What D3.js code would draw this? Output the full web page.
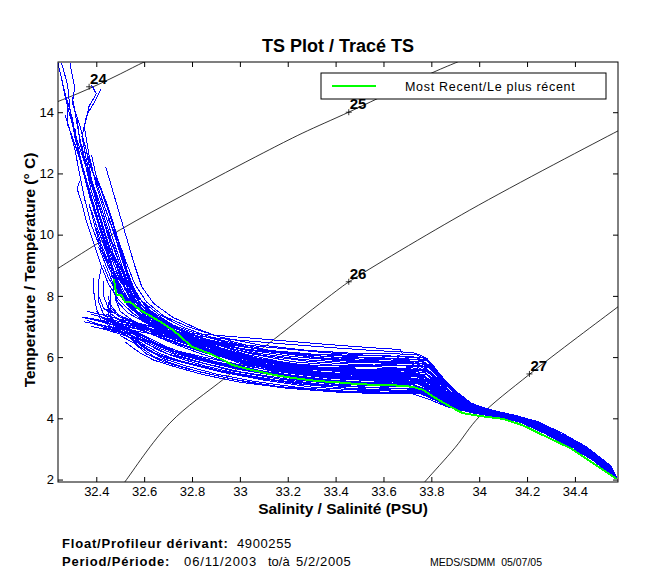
<!DOCTYPE html>
<html>
<head>
<meta charset="utf-8">
<script src="https://cdn.jsdelivr.net/npm/d3@7"></script>
<style>
  body { margin: 0; background: #fff; }
  text { font-family: "Liberation Sans", Arial, Helvetica, sans-serif; }
</style>
</head>
<body>
<svg id="ts" width="650" height="580"></svg>
<script>
// axis ranges and ticks
const sRange = [32.24, 34.58];
const tRange = [1.92, 15.64];
const xTicks = [32.4, 32.6, 32.8, 33, 33.2, 33.4, 33.6, 33.8, 34, 34.2, 34.4];
const xTickLabels = ["32.4", "32.6", "32.8", "33", "33.2", "33.4", "33.6", "33.8", "34", "34.2", "34.4"];
const yTicks = [2, 4, 6, 8, 10, 12, 14];
const yTickLabels = ["2", "4", "6", "8", "10", "12", "14"];

// sigma-theta isopycnals [S, T]
const sigma24 = [[32.2,14.22],[32.24,14.35],[32.32,14.6],[32.415,14.93],[32.5,15.25],[32.6,15.64],[32.65,15.8]];
const sigma25 = [[32.2,8.71],[32.24,8.9],[32.5,10.16],[32.77,11.32],[33.1,12.68],[33.26,13.31],[33.46,14.02],[33.807,15.3],[33.912,15.65],[33.95,15.78]];
const sigma26 = [[32.5,1.72],[32.52,1.93],[32.708,3.85],[32.945,5.36],[33.418,8.25],[33.456,8.46],[33.96,10.8],[34.58,13.39],[34.62,13.55]];
const sigma27 = [[33.765,1.85],[33.78,1.99],[33.9,3.05],[34.0,4.05],[34.212,5.45],[34.576,7.62],[34.62,7.88]];
const sigmaLabels = ["24", "25", "26", "27"];
const sigmaMarks = [[32.37,14.83],[33.455,14.0],[33.455,8.46],[34.21,5.45]];

// profiles with warm surface water (summer / autumn)
const warmProfiles = [
  [[32.24,15.6],[32.27,14.6],[32.3,13.8],[32.32,12.9],[32.35,11.9],[32.39,10.8],[32.43,9.8],[32.47,8.9],[32.51,8.1],[32.57,7.5],[32.66,7.0],[32.78,6.5],[32.92,6.05],[33.1,5.7],[33.3,5.5],[33.5,5.4],[33.7,5.35],[33.77,5.2],[33.84,4.8],[33.93,4.4],[34.02,4.22],[34.12,4.05],[34.22,3.82],[34.32,3.45],[34.42,3.02],[34.5,2.6],[34.57,2.06]],
  [[32.255,15.6],[32.28,14.9],[32.29,14.1],[32.31,13.2],[32.34,12.3],[32.37,11.3],[32.41,10.3],[32.45,9.3],[32.49,8.5],[32.54,7.8],[32.62,7.25],[32.72,6.8],[32.85,6.3],[33.0,5.9],[33.2,5.6],[33.4,5.45],[33.6,5.42],[33.74,5.38],[33.8,5.1],[33.88,4.6],[33.97,4.3],[34.06,4.16],[34.16,4.0],[34.26,3.68],[34.36,3.26],[34.46,2.82],[34.56,2.12]],
  [[32.29,15.6],[32.31,14.8],[32.3,14.3],[32.33,13.6],[32.36,12.7],[32.38,11.8],[32.42,10.9],[32.46,9.9],[32.5,9.0],[32.53,8.3],[32.58,7.6],[32.65,7.15],[32.76,6.7],[32.9,6.25],[33.05,5.85],[33.25,5.55],[33.45,5.35],[33.65,5.3],[33.75,5.25],[33.82,4.95],[33.9,4.5],[34.0,4.24],[34.1,4.08],[34.2,3.86],[34.3,3.5],[34.4,3.08],[34.5,2.62],[34.575,2.02]],
  [[32.38,14.9],[32.4,14.6],[32.37,14.2],[32.35,13.5],[32.37,12.6],[32.4,11.6],[32.44,10.6],[32.48,9.6],[32.52,8.7],[32.55,8.0],[32.61,7.4],[32.7,6.95],[32.82,6.5],[32.97,6.1],[33.15,5.8],[33.35,5.6],[33.55,5.55],[33.72,5.5],[33.78,5.3],[33.85,4.85],[33.94,4.4],[34.03,4.2],[34.13,4.04],[34.23,3.8],[34.33,3.4],[34.43,2.98],[34.53,2.45],[34.575,2.04]],
  [[32.42,14.75],[32.39,14.3],[32.36,13.9],[32.34,13.2],[32.36,12.4],[32.39,11.4],[32.42,10.4],[32.46,9.5],[32.5,8.6],[32.54,7.9],[32.6,7.35],[32.68,6.9],[32.8,6.45],[32.95,6.0],[33.12,5.65],[33.3,5.4],[33.5,5.3],[33.68,5.25],[33.76,5.1],[33.83,4.75],[33.92,4.38],[34.02,4.2],[34.12,4.03],[34.22,3.8],[34.32,3.42],[34.42,3.0],[34.52,2.5],[34.57,2.05]],
  [[32.28,14.2],[32.28,13.6],[32.3,13.2],[32.33,12.5],[32.36,11.6],[32.4,10.6],[32.44,9.7],[32.47,8.9],[32.5,8.2],[32.55,7.6],[32.63,7.1],[32.74,6.7],[32.87,6.25],[33.02,5.8],[33.2,5.5],[33.4,5.3],[33.6,5.2],[33.74,5.15],[33.8,4.9],[33.88,4.5],[33.98,4.25],[34.08,4.1],[34.18,3.9],[34.28,3.55],[34.38,3.14],[34.48,2.7],[34.57,2.08]],
  [[32.27,13.9],[32.29,13.4],[32.31,12.8],[32.33,12.0],[32.35,11.2],[32.38,10.3],[32.42,9.5],[32.46,8.8],[32.49,8.2],[32.53,7.7],[32.6,7.2],[32.7,6.75],[32.83,6.3],[33.0,5.85],[33.18,5.55],[33.38,5.38],[33.58,5.32],[33.73,5.3],[33.79,5.05],[33.86,4.65],[33.95,4.33],[34.04,4.18],[34.14,4.02],[34.24,3.75],[34.34,3.36],[34.44,2.92],[34.54,2.4],[34.575,2.03]],
  [[32.31,13.5],[32.32,13.0],[32.34,12.3],[32.37,11.5],[32.4,10.7],[32.43,9.9],[32.46,9.1],[32.49,8.5],[32.52,7.9],[32.57,7.4],[32.64,7.0],[32.76,6.55],[32.9,6.15],[33.07,5.75],[33.27,5.45],[33.47,5.28],[33.67,5.22],[33.76,5.12],[33.82,4.82],[33.9,4.45],[34.0,4.22],[34.1,4.06],[34.2,3.84],[34.3,3.48],[34.4,3.06],[34.5,2.58],[34.57,2.07]],
  [[32.33,13.05],[32.35,12.5],[32.38,11.8],[32.41,11.0],[32.44,10.2],[32.47,9.4],[32.51,8.6],[32.55,7.95],[32.6,7.5],[32.67,7.05],[32.78,6.6],[32.92,6.15],[33.08,5.8],[33.28,5.6],[33.48,5.5],[33.68,5.48],[33.76,5.4],[33.82,5.1],[33.9,4.6],[33.99,4.3],[34.08,4.15],[34.18,3.96],[34.28,3.6],[34.38,3.18],[34.48,2.72],[34.565,2.1]],
  [[32.36,12.7],[32.38,12.2],[32.41,11.5],[32.44,10.8],[32.48,9.9],[32.51,9.1],[32.54,8.4],[32.58,7.8],[32.64,7.3],[32.73,6.85],[32.86,6.4],[33.0,6.0],[33.2,5.7],[33.4,5.55],[33.6,5.5],[33.75,5.45],[33.81,5.2],[33.88,4.75],[33.96,4.38],[34.05,4.2],[34.15,4.03],[34.25,3.74],[34.35,3.32],[34.45,2.88],[34.55,2.3],[34.575,2.05]],
  [[32.37,12.3],[32.4,11.8],[32.44,11.1],[32.47,10.4],[32.5,9.6],[32.52,8.9],[32.55,8.2],[32.59,7.6],[32.66,7.15],[32.77,6.7],[32.9,6.3],[33.05,5.95],[33.25,5.65],[33.45,5.5],[33.65,5.42],[33.76,5.38],[33.8,5.18],[33.87,4.7],[33.96,4.35],[34.05,4.19],[34.15,4.02],[34.25,3.72],[34.35,3.3],[34.45,2.86],[34.56,2.18]],
  [[32.33,11.75],[32.32,11.5],[32.34,11.0],[32.36,10.4],[32.39,9.7],[32.42,9.0],[32.45,8.4],[32.49,7.9],[32.55,7.45],[32.63,7.0],[32.75,6.55],[32.88,6.1],[33.04,5.75],[33.24,5.45],[33.44,5.3],[33.64,5.25],[33.75,5.2],[33.8,4.98],[33.87,4.55],[33.97,4.27],[34.07,4.12],[34.17,3.94],[34.27,3.6],[34.37,3.2],[34.47,2.75],[34.57,2.06]],
  [[32.4,11.9],[32.43,11.3],[32.46,10.6],[32.49,9.8],[32.52,9.0],[32.55,8.3],[32.6,7.7],[32.67,7.2],[32.78,6.75],[32.92,6.3],[33.08,5.92],[33.28,5.65],[33.48,5.55],[33.68,5.55],[33.77,5.5],[33.82,5.25],[33.89,4.8],[33.97,4.4],[34.06,4.2],[34.16,4.03],[34.26,3.72],[34.36,3.3],[34.46,2.85],[34.56,2.2]],
  [[32.42,11.2],[32.45,10.6],[32.48,9.9],[32.51,9.2],[32.53,8.6],[32.56,8.0],[32.61,7.5],[32.69,7.05],[32.8,6.6],[32.95,6.2],[33.12,5.88],[33.32,5.62],[33.52,5.48],[33.72,5.45],[33.78,5.3],[33.85,4.9],[33.93,4.45],[34.02,4.23],[34.12,4.07],[34.22,3.85],[34.32,3.46],[34.42,3.04],[34.52,2.55],[34.575,2.04]],
  [[32.38,10.8],[32.4,10.3],[32.43,9.7],[32.46,9.0],[32.49,8.4],[32.53,7.85],[32.58,7.4],[32.66,6.95],[32.77,6.5],[32.9,6.1],[33.06,5.78],[33.26,5.5],[33.46,5.38],[33.66,5.33],[33.75,5.28],[33.81,5.0],[33.88,4.6],[33.97,4.3],[34.06,4.16],[34.16,4.0],[34.26,3.68],[34.36,3.26],[34.46,2.8],[34.565,2.12]],
  [[32.45,10.5],[32.48,10.0],[32.51,9.4],[32.53,8.8],[32.56,8.2],[32.6,7.7],[32.66,7.3],[32.75,6.9],[32.87,6.5],[33.02,6.1],[33.2,5.8],[33.4,5.6],[33.6,5.55],[33.76,5.55],[33.8,5.35],[33.86,4.95],[33.94,4.5],[34.03,4.24],[34.13,4.08],[34.23,3.86],[34.33,3.48],[34.43,3.06],[34.53,2.5],[34.575,2.06]],
  [[32.4,10.2],[32.42,9.7],[32.45,9.1],[32.48,8.5],[32.51,8.0],[32.55,7.55],[32.62,7.1],[32.72,6.7],[32.85,6.25],[33.0,5.85],[33.18,5.5],[33.38,5.3],[33.58,5.22],[33.73,5.2],[33.79,4.95],[33.86,4.55],[33.96,4.28],[34.05,4.15],[34.15,3.99],[34.25,3.68],[34.35,3.28],[34.45,2.84],[34.56,2.15]],
  [[32.44,9.8],[32.47,9.3],[32.5,8.7],[32.53,8.1],[32.57,7.6],[32.63,7.2],[32.72,6.8],[32.84,6.4],[32.98,6.0],[33.15,5.7],[33.35,5.5],[33.55,5.42],[33.73,5.4],[33.79,5.15],[33.86,4.7],[33.95,4.35],[34.04,4.19],[34.14,4.03],[34.24,3.78],[34.34,3.38],[34.44,2.94],[34.54,2.38],[34.575,2.05]],
  [[32.47,9.4],[32.5,8.9],[32.53,8.4],[32.56,7.9],[32.6,7.5],[32.67,7.1],[32.78,6.7],[32.92,6.3],[33.08,5.95],[33.28,5.7],[33.48,5.6],[33.68,5.58],[33.78,5.55],[33.83,5.3],[33.9,4.8],[33.98,4.38],[34.07,4.2],[34.17,4.02],[34.27,3.7],[34.37,3.28],[34.47,2.8],[34.57,2.08]],
  [[32.43,9.0],[32.45,8.6],[32.48,8.2],[32.52,7.8],[32.57,7.4],[32.64,7.0],[32.74,6.6],[32.86,6.2],[33.0,5.8],[33.18,5.45],[33.38,5.25],[33.58,5.15],[33.72,5.12],[33.78,4.92],[33.85,4.55],[33.95,4.27],[34.04,4.14],[34.14,3.98],[34.24,3.72],[34.34,3.32],[34.44,2.9],[34.54,2.35],[34.57,2.04]],
  [[32.48,8.8],[32.51,8.4],[32.55,8.0],[32.59,7.6],[32.65,7.2],[32.73,6.85],[32.85,6.45],[33.0,6.05],[33.18,5.75],[33.38,5.58],[33.58,5.5],[33.74,5.48],[33.8,5.25],[33.87,4.8],[33.95,4.42],[34.04,4.22],[34.14,4.06],[34.24,3.82],[34.34,3.42],[34.44,3.0],[34.54,2.45],[34.575,2.05]],
  [[32.35,12.0],[32.38,11.2],[32.42,10.2],[32.46,9.3],[32.5,8.5],[32.55,7.9],[32.62,7.4],[32.72,6.95],[32.85,6.6],[33.0,6.35],[33.2,6.12],[33.4,6.0],[33.6,5.95],[33.76,5.9],[33.81,5.6],[33.87,5.1],[33.94,4.6],[34.02,4.28],[34.12,4.1],[34.22,3.9],[34.32,3.5],[34.42,3.1],[34.52,2.58],[34.575,2.06]],
  [[32.4,10.9],[32.43,10.1],[32.47,9.2],[32.52,8.4],[32.57,7.8],[32.64,7.35],[32.74,6.95],[32.87,6.55],[33.02,6.25],[33.22,6.02],[33.42,5.88],[33.62,5.82],[33.77,5.8],[33.82,5.5],[33.88,5.0],[33.95,4.55],[34.04,4.26],[34.14,4.09],[34.24,3.86],[34.34,3.48],[34.44,3.05],[34.54,2.48],[34.575,2.06]],
  [[32.3,14.5],[32.32,13.6],[32.34,12.8],[32.37,12.0],[32.41,11.0],[32.45,10.0],[32.49,9.2],[32.53,8.5],[32.58,7.9],[32.66,7.4],[32.77,6.95],[32.9,6.6],[33.05,6.3],[33.25,6.1],[33.45,5.95],[33.65,5.9],[33.76,5.85],[33.8,5.62],[33.86,5.15],[33.93,4.65],[34.01,4.3],[34.1,4.12],[34.2,3.92],[34.3,3.56],[34.4,3.14],[34.5,2.65],[34.57,2.08]],
  [[32.38,12.6],[32.4,11.9],[32.44,11.0],[32.48,10.1],[32.52,9.2],[32.56,8.4],[32.61,7.8],[32.68,7.35],[32.78,7.0],[32.92,6.65],[33.08,6.4],[33.28,6.22],[33.48,6.12],[33.68,6.1],[33.74,6.08],[33.78,5.9],[33.82,5.5],[33.88,5.0],[33.96,4.52],[34.04,4.28],[34.14,4.1],[34.24,3.88],[34.34,3.5],[34.44,3.08],[34.54,2.5],[34.575,2.05]],
  [[32.44,12.2],[32.47,11.4],[32.5,10.6],[32.53,9.8],[32.56,9.0],[32.59,8.3],[32.64,7.75],[32.72,7.3],[32.83,6.9],[32.97,6.5],[33.13,6.2],[33.33,5.98],[33.53,5.88],[33.73,5.85],[33.79,5.7],[33.84,5.3],[33.9,4.85],[33.97,4.45],[34.06,4.24],[34.16,4.07],[34.26,3.8],[34.36,3.38],[34.46,2.92],[34.56,2.25]],
  [[32.25,15.3],[32.27,14.5],[32.29,13.9],[32.31,13.3],[32.34,12.6],[32.37,11.9],[32.41,11.0],[32.44,10.2],[32.48,9.4],[32.52,8.6],[32.57,8.0],[32.63,7.5],[32.72,7.05],[32.84,6.7],[32.98,6.4],[33.15,6.15],[33.35,5.95],[33.55,5.85],[33.72,5.82],[33.79,5.65],[33.84,5.25],[33.9,4.8],[33.98,4.4],[34.07,4.22],[34.17,4.05],[34.27,3.76],[34.37,3.34],[34.47,2.88],[34.57,2.1]],
  [[32.34,12.9],[32.36,12.1],[32.38,11.4],[32.42,10.5],[32.45,9.7],[32.49,8.9],[32.52,8.2],[32.57,7.65],[32.63,7.25],[32.71,6.9],[32.81,6.55],[32.93,6.2],[33.08,5.9],[33.22,5.7],[33.4,5.65],[33.55,5.7],[33.7,5.62],[33.77,5.58],[33.82,5.3],[33.88,4.85],[33.96,4.42],[34.05,4.22],[34.15,4.05],[34.25,3.78],[34.35,3.36],[34.45,2.9],[34.56,2.15]],
  [[32.32,13.8],[32.33,13.1],[32.35,12.4],[32.38,11.6],[32.42,10.7],[32.46,9.8],[32.5,9.0],[32.54,8.3],[32.59,7.7],[32.66,7.25],[32.76,6.85],[32.89,6.45],[33.04,6.12],[33.22,5.85],[33.42,5.72],[33.62,5.75],[33.75,5.72],[33.8,5.45],[33.86,4.98],[33.93,4.52],[34.02,4.27],[34.12,4.09],[34.22,3.87],[34.32,3.48],[34.42,3.07],[34.52,2.56],[34.575,2.05]],
  [[32.37,11.0],[32.39,10.4],[32.41,9.8],[32.44,9.2],[32.47,8.6],[32.5,8.1],[32.54,7.7],[32.6,7.3],[32.68,6.95],[32.79,6.58],[32.92,6.22],[33.07,5.92],[33.25,5.68],[33.45,5.48],[33.62,5.45],[33.74,5.42],[33.79,5.2],[33.86,4.75],[33.94,4.38],[34.03,4.2],[34.13,4.04],[34.23,3.8],[34.33,3.4],[34.43,2.98],[34.53,2.46],[34.575,2.04]],
  [[32.41,9.6],[32.44,9.0],[32.47,8.4],[32.51,7.9],[32.56,7.5],[32.63,7.1],[32.72,6.75],[32.84,6.38],[32.98,6.08],[33.15,5.82],[33.33,5.65],[33.53,5.6],[33.7,5.6],[33.78,5.55],[33.82,5.28],[33.88,4.82],[33.96,4.42],[34.05,4.22],[34.15,4.05],[34.25,3.8],[34.35,3.38],[34.45,2.93],[34.55,2.38],[34.575,2.05]],
  [[32.45,9.2],[32.48,8.7],[32.52,8.25],[32.56,7.8],[32.62,7.4],[32.7,7.05],[32.8,6.72],[32.93,6.4],[33.08,6.12],[33.26,5.92],[33.46,5.82],[33.66,5.8],[33.76,5.78],[33.81,5.55],[33.86,5.1],[33.93,4.62],[34.01,4.3],[34.1,4.13],[34.2,3.93],[34.3,3.56],[34.4,3.14],[34.5,2.64],[34.57,2.08]]
];

// profiles with cool mixed layer (winter / spring)
const coolProfiles = [
  [[32.42,8.9],[32.41,8.5],[32.41,8.0],[32.43,7.6],[32.48,7.3],[32.55,7.05],[32.63,6.75],[32.72,6.45],[32.84,6.1],[32.98,5.75],[33.15,5.45],[33.35,5.22],[33.55,5.1],[33.72,5.05],[33.78,4.88],[33.85,4.55],[33.94,4.28],[34.03,4.15],[34.13,4.0],[34.23,3.76],[34.33,3.38],[34.43,2.95],[34.53,2.42],[34.57,2.05]],
  [[32.39,8.6],[32.39,8.1],[32.4,7.6],[32.42,7.2],[32.47,6.95],[32.55,6.7],[32.62,6.4],[32.7,6.1],[32.82,5.85],[32.97,5.55],[33.15,5.3],[33.35,5.1],[33.55,5.0],[33.72,4.97],[33.79,4.8],[33.86,4.5],[33.96,4.24],[34.05,4.12],[34.15,3.97],[34.25,3.7],[34.35,3.3],[34.45,2.86],[34.56,2.12]],
  [[32.35,7.3],[32.42,7.2],[32.5,7.1],[32.57,7.0],[32.64,6.8],[32.73,6.55],[32.84,6.25],[32.98,5.9],[33.15,5.6],[33.35,5.38],[33.55,5.28],[33.72,5.25],[33.78,5.05],[33.85,4.68],[33.94,4.34],[34.03,4.18],[34.13,4.02],[34.23,3.78],[34.33,3.4],[34.43,2.97],[34.53,2.45],[34.575,2.04]],
  [[32.39,7.1],[32.45,7.0],[32.52,6.9],[32.58,6.75],[32.64,6.5],[32.72,6.2],[32.83,5.95],[32.97,5.7],[33.15,5.42],[33.35,5.2],[33.55,5.08],[33.72,5.02],[33.78,4.85],[33.85,4.55],[33.94,4.28],[34.03,4.14],[34.13,3.99],[34.23,3.74],[34.33,3.35],[34.43,2.92],[34.53,2.4],[34.57,2.04]],
  [[32.43,6.95],[32.5,6.8],[32.56,6.55],[32.62,6.2],[32.7,5.95],[32.8,5.75],[32.93,5.5],[33.1,5.25],[33.3,5.02],[33.5,4.92],[33.68,4.88],[33.76,4.85],[33.82,4.62],[33.9,4.35],[34.0,4.16],[34.1,4.02],[34.2,3.82],[34.3,3.44],[34.4,3.02],[34.5,2.55],[34.57,2.05]],
  [[32.46,7.7],[32.46,7.3],[32.5,7.0],[32.56,6.75],[32.62,6.5],[32.7,6.25],[32.82,6.0],[32.96,5.72],[33.14,5.45],[33.34,5.25],[33.54,5.15],[33.72,5.1],[33.78,4.92],[33.85,4.6],[33.94,4.3],[34.03,4.16],[34.13,4.0],[34.23,3.77],[34.33,3.38],[34.43,2.95],[34.53,2.44],[34.57,2.05]],
  [[32.48,8.3],[32.48,7.9],[32.5,7.5],[32.55,7.2],[32.62,6.95],[32.7,6.7],[32.8,6.4],[32.93,6.05],[33.1,5.72],[33.3,5.48],[33.5,5.36],[33.7,5.32],[33.77,5.18],[33.84,4.8],[33.92,4.42],[34.01,4.2],[34.11,4.05],[34.21,3.83],[34.31,3.45],[34.41,3.03],[34.51,2.52],[34.575,2.03]],
  [[32.37,7.25],[32.45,7.1],[32.55,6.95],[32.68,6.85],[32.8,6.78],[33.0,6.65],[33.2,6.52],[33.42,6.38],[33.6,6.28],[33.67,6.25],[33.68,6.1],[33.65,6.02],[33.7,5.85],[33.76,5.6],[33.8,5.3],[33.86,4.9],[33.94,4.48],[34.03,4.23],[34.13,4.07],[34.23,3.85],[34.33,3.47],[34.43,3.05],[34.53,2.5],[34.575,2.05]],
  [[32.4,7.05],[32.5,6.95],[32.6,6.8],[32.75,6.62],[32.95,6.45],[33.15,6.3],[33.35,6.15],[33.55,6.05],[33.7,6.0],[33.78,5.97],[33.8,5.75],[33.84,5.35],[33.89,4.9],[33.96,4.5],[34.05,4.25],[34.15,4.08],[34.25,3.85],[34.35,3.46],[34.45,3.02],[34.55,2.42],[34.575,2.08]],
  [[32.38,7.0],[32.44,6.9],[32.5,6.75],[32.56,6.6],[32.6,6.35],[32.66,6.05],[32.75,5.85],[32.88,5.6],[33.05,5.35],[33.25,5.12],[33.45,4.98],[33.65,4.92],[33.75,4.9],[33.81,4.7],[33.88,4.42],[33.98,4.2],[34.08,4.08],[34.18,3.9],[34.28,3.55],[34.38,3.13],[34.48,2.68],[34.57,2.06]],
  [[32.41,8.2],[32.41,7.8],[32.43,7.4],[32.47,7.15],[32.54,6.9],[32.6,6.65],[32.68,6.35],[32.78,6.1],[32.9,5.85],[33.05,5.6],[33.25,5.35],[33.45,5.2],[33.65,5.15],[33.75,5.12],[33.8,4.9],[33.87,4.55],[33.96,4.27],[34.05,4.14],[34.15,3.98],[34.25,3.7],[34.35,3.3],[34.45,2.86],[34.55,2.3],[34.57,2.05]],
  [[32.44,7.4],[32.5,7.2],[32.57,7.05],[32.64,6.9],[32.72,6.65],[32.82,6.38],[32.95,6.08],[33.1,5.82],[33.3,5.6],[33.5,5.5],[33.7,5.47],[33.78,5.42],[33.83,5.15],[33.9,4.7],[33.98,4.35],[34.07,4.19],[34.17,4.02],[34.27,3.72],[34.37,3.3],[34.47,2.84],[34.57,2.06]],
  [[32.36,7.2],[32.4,7.1],[32.48,6.92],[32.55,6.6],[32.6,6.3],[32.67,6.05],[32.78,5.82],[32.92,5.55],[33.1,5.28],[33.3,5.08],[33.5,4.95],[33.68,4.9],[33.76,4.86],[33.82,4.66],[33.9,4.38],[34.0,4.18],[34.1,4.04],[34.2,3.83],[34.3,3.47],[34.4,3.05],[34.5,2.58],[34.57,2.07]],
  [[32.45,8.0],[32.46,7.6],[32.5,7.35],[32.56,7.1],[32.62,6.85],[32.7,6.58],[32.8,6.3],[32.93,6.0],[33.1,5.68],[33.3,5.42],[33.5,5.3],[33.7,5.28],[33.77,5.15],[33.84,4.78],[33.93,4.4],[34.02,4.2],[34.12,4.04],[34.22,3.8],[34.32,3.42],[34.42,3.0],[34.52,2.48],[34.575,2.04]],
  [[32.4,7.5],[32.42,7.3],[32.47,7.1],[32.54,6.88],[32.6,6.6],[32.67,6.32],[32.76,6.08],[32.88,5.82],[33.03,5.55],[33.22,5.3],[33.42,5.15],[33.62,5.08],[33.74,5.05],[33.79,4.86],[33.86,4.52],[33.95,4.26],[34.04,4.13],[34.14,3.97],[34.24,3.72],[34.34,3.33],[34.44,2.9],[34.54,2.36],[34.57,2.05]],
  [[32.47,8.6],[32.47,8.2],[32.49,7.8],[32.53,7.45],[32.6,7.15],[32.69,6.85],[32.8,6.5],[32.94,6.15],[33.1,5.85],[33.3,5.62],[33.5,5.52],[33.7,5.5],[33.78,5.42],[33.83,5.1],[33.9,4.65],[33.98,4.33],[34.07,4.18],[34.17,4.0],[34.27,3.67],[34.37,3.25],[34.47,2.8],[34.565,2.1]],
  [[32.5,6.7],[32.56,6.45],[32.61,6.1],[32.68,5.85],[32.78,5.62],[32.9,5.4],[33.05,5.15],[33.25,4.95],[33.45,4.85],[33.65,4.82],[33.75,4.82],[33.8,4.65],[33.88,4.36],[33.98,4.17],[34.08,4.04],[34.18,3.86],[34.28,3.5],[34.38,3.1],[34.48,2.65],[34.57,2.04]],
  [[32.42,7.0],[32.47,6.9],[32.53,6.75],[32.6,6.55],[32.66,6.3],[32.74,6.05],[32.85,5.8],[33.0,5.52],[33.2,5.28],[33.4,5.12],[33.6,5.05],[33.73,5.02],[33.79,4.82],[33.86,4.5],[33.95,4.25],[34.04,4.12],[34.14,3.97],[34.24,3.7],[34.34,3.3],[34.44,2.87],[34.54,2.34],[34.575,2.02]],
  [[32.46,8.7],[32.5,8.2],[32.56,7.7],[32.63,7.3],[32.72,6.9],[32.84,6.55],[32.98,6.3],[33.15,6.15],[33.35,6.08],[33.55,6.05],[33.72,6.02],[33.79,5.85],[33.83,5.45],[33.89,4.95],[33.96,4.5],[34.05,4.27],[34.15,4.1],[34.25,3.88],[34.35,3.5],[34.45,3.06],[34.55,2.45],[34.575,2.07]],
  [[32.36,7.5],[32.44,7.35],[32.52,7.2],[32.6,7.05],[32.7,6.85],[32.82,6.6],[32.96,6.4],[33.12,6.22],[33.3,6.1],[33.5,6.0],[33.68,5.95],[33.75,5.92],[33.8,5.7],[33.85,5.2],[33.91,4.72],[33.99,4.38],[34.08,4.18],[34.18,3.98],[34.28,3.64],[34.38,3.2],[34.48,2.74],[34.57,2.08]],
  [[32.47,7.0],[32.53,6.7],[32.58,6.35],[32.64,6.02],[32.72,5.78],[32.83,5.52],[32.97,5.28],[33.15,5.05],[33.35,4.9],[33.55,4.84],[33.7,4.83],[33.77,4.8],[33.83,4.55],[33.92,4.3],[34.02,4.13],[34.12,4.0],[34.22,3.78],[34.32,3.4],[34.42,2.98],[34.52,2.48],[34.57,2.04]],
  [[32.44,7.15],[32.5,6.95],[32.56,6.6],[32.61,6.25],[32.68,5.95],[32.78,5.7],[32.9,5.45],[33.05,5.22],[33.25,5.0],[33.45,4.88],[33.65,4.85],[33.74,4.86],[33.79,4.7],[33.86,4.42],[33.96,4.2],[34.06,4.07],[34.16,3.92],[34.26,3.62],[34.36,3.2],[34.46,2.75],[34.56,2.1]],
  [[32.52,6.5],[32.58,6.15],[32.64,5.9],[32.73,5.68],[32.85,5.42],[33.0,5.18],[33.2,4.98],[33.4,4.86],[33.6,4.8],[33.72,4.8],[33.79,4.62],[33.87,4.37],[33.97,4.18],[34.07,4.05],[34.17,3.88],[34.27,3.52],[34.37,3.1],[34.47,2.66],[34.57,2.03]],
  [[32.41,7.35],[32.48,7.15],[32.56,6.95],[32.65,6.7],[32.75,6.4],[32.87,6.1],[33.02,5.85],[33.2,5.65],[33.4,5.55],[33.6,5.62],[33.72,5.65],[33.78,5.55],[33.83,5.2],[33.9,4.75],[33.98,4.38],[34.07,4.2],[34.17,4.03],[34.27,3.72],[34.37,3.3],[34.47,2.84],[34.57,2.07]],
  [[32.43,8.5],[32.43,8.0],[32.45,7.6],[32.5,7.3],[32.58,7.1],[32.68,6.9],[32.8,6.62],[32.94,6.32],[33.1,6.05],[33.3,5.85],[33.5,5.75],[33.7,5.72],[33.77,5.68],[33.82,5.35],[33.88,4.85],[33.96,4.45],[34.05,4.23],[34.15,4.06],[34.25,3.82],[34.35,3.42],[34.45,2.98],[34.55,2.4],[34.575,2.06]],
  [[32.34,7.3],[32.4,7.2],[32.47,7.05],[32.54,6.85],[32.6,6.6],[32.66,6.4],[32.74,6.2],[32.86,5.98],[33.0,5.75],[33.18,5.5],[33.38,5.35],[33.58,5.4],[33.7,5.45],[33.77,5.4],[33.82,5.05],[33.89,4.62],[33.97,4.32],[34.06,4.17],[34.16,4.01],[34.26,3.7],[34.36,3.28],[34.46,2.82],[34.56,2.14]],
  [[32.45,7.8],[32.45,7.4],[32.48,7.05],[32.54,6.75],[32.6,6.4],[32.67,6.1],[32.76,5.85],[32.88,5.6],[33.03,5.38],[33.22,5.15],[33.42,5.0],[33.62,4.92],[33.73,4.9],[33.79,4.72],[33.86,4.45],[33.95,4.22],[34.04,4.1],[34.14,3.95],[34.24,3.68],[34.34,3.28],[34.44,2.85],[34.54,2.32],[34.575,2.03]],
  [[32.46,8.2],[32.46,7.7],[32.49,7.4],[32.55,7.15],[32.62,6.9],[32.71,6.62],[32.82,6.33],[32.95,6.05],[33.1,5.78],[33.28,5.55],[33.46,5.42],[33.64,5.38],[33.75,5.35],[33.8,5.15],[33.87,4.72],[33.95,4.36],[34.04,4.19],[34.14,4.03],[34.24,3.78],[34.34,3.38],[34.44,2.95],[34.54,2.42],[34.575,2.05]],
  [[32.38,7.4],[32.45,7.25],[32.53,7.1],[32.61,6.95],[32.7,6.75],[32.8,6.48],[32.93,6.2],[33.08,5.95],[33.26,5.75],[33.45,5.7],[33.63,5.72],[33.75,5.7],[33.8,5.5],[33.85,5.05],[33.92,4.6],[34.0,4.3],[34.09,4.15],[34.19,3.97],[34.29,3.62],[34.39,3.2],[34.49,2.72],[34.57,2.1]],
  [[32.44,7.25],[32.5,7.05],[32.56,6.85],[32.62,6.62],[32.69,6.35],[32.78,6.08],[32.9,5.8],[33.05,5.55],[33.22,5.3],[33.42,5.08],[33.6,4.98],[33.73,4.95],[33.79,4.78],[33.86,4.48],[33.95,4.24],[34.04,4.12],[34.14,3.96],[34.24,3.7],[34.34,3.3],[34.44,2.86],[34.54,2.35],[34.57,2.04]],
  [[32.5,7.1],[32.55,6.8],[32.6,6.5],[32.66,6.22],[32.74,5.98],[32.85,5.72],[32.98,5.48],[33.15,5.25],[33.35,5.08],[33.55,5.0],[33.7,4.98],[33.76,4.95],[33.81,4.72],[33.89,4.42],[33.98,4.2],[34.08,4.07],[34.18,3.9],[34.28,3.55],[34.38,3.13],[34.48,2.68],[34.57,2.05]],
  [[32.43,7.6],[32.47,7.45],[32.53,7.25],[32.6,7.0],[32.68,6.72],[32.78,6.42],[32.9,6.12],[33.05,5.82],[33.22,5.55],[33.42,5.38],[33.62,5.3],[33.74,5.28],[33.79,5.08],[33.86,4.65],[33.94,4.32],[34.03,4.17],[34.13,4.01],[34.23,3.77],[34.33,3.38],[34.43,2.96],[34.53,2.44],[34.57,2.04]],
  [[32.35,7.15],[32.43,7.02],[32.51,6.88],[32.58,6.68],[32.65,6.4],[32.73,6.12],[32.84,5.88],[32.98,5.62],[33.16,5.38],[33.36,5.2],[33.56,5.12],[33.72,5.1],[33.78,4.95],[33.85,4.6],[33.94,4.3],[34.03,4.16],[34.13,4.0],[34.23,3.76],[34.33,3.37],[34.43,2.94],[34.53,2.42],[34.57,2.04]],
  [[32.42,7.2],[32.52,7.05],[32.65,6.9],[32.8,6.7],[33.0,6.55],[33.2,6.42],[33.4,6.3],[33.55,6.22],[33.65,6.18],[33.72,6.15],[33.76,6.05],[33.8,5.8],[33.84,5.4],[33.9,4.9],[33.97,4.48],[34.06,4.25],[34.16,4.08],[34.26,3.82],[34.36,3.42],[34.46,2.97],[34.56,2.3]]
];

// most recent profile (green)
const recentProfile = [[32.474,8.55],[32.478,8.3],[32.485,8.03],[32.505,8.03],[32.52,7.81],[32.54,7.81],[32.583,7.54],[32.666,7.16],[32.72,6.89],[32.8,6.34],[32.888,6.07],[32.97,5.74],[33.05,5.58],[33.14,5.42],[33.22,5.32],[33.32,5.22],[33.42,5.17],[33.5,5.11],[33.627,5.09],[33.72,5.03],[33.765,4.93],[33.82,4.65],[33.88,4.38],[33.93,4.17],[34.0,4.08],[34.1,3.98],[34.18,3.78],[34.28,3.4],[34.38,3.03],[34.475,2.54],[34.575,2.02]];

const titleText = "TS Plot / Tracé TS";
const xLabel = "Salinity / Salinité (PSU)";
const yLabel = "Temperature / Température (° C)";
const legendLabel = "Most Recent/Le plus récent";
const floatId = "4900255";
const periodStart = "06/11/2003";
const periodEnd = "5/2/2005";
const stamp = "MEDS/SDMM  05/07/05";

// plot box
const box = {left: 58, right: 618, top: 62, bottom: 482};

const svg = d3.select("#ts");

const x = d3.scaleLinear().domain(sRange).range([box.left, box.right]);
const y = d3.scaleLinear().domain(tRange).range([box.bottom, box.top]);

svg.append("defs").append("clipPath").attr("id", "clip")
  .append("rect")
  .attr("x", box.left).attr("y", box.top)
  .attr("width", box.right - box.left).attr("height", box.bottom - box.top);

const line = d3.line().x(d => x(d[0])).y(d => y(d[1]));
const smooth = d3.line().curve(d3.curveCatmullRom).x(d => x(d[0])).y(d => y(d[1]));

const inner = svg.append("g").attr("clip-path", "url(#clip)");

// isopycnals
inner.selectAll("path.sigma")
  .data([sigma24, sigma25, sigma26, sigma27])
  .join("path")
  .attr("class", "sigma")
  .attr("d", smooth)
  .attr("fill", "none")
  .attr("stroke", "#000")
  .attr("stroke-width", 0.8);

// all profiles, aliased like the old plotting output
inner.selectAll("path.profile")
  .data(warmProfiles.concat(coolProfiles))
  .join("path")
  .attr("class", "profile")
  .attr("d", line)
  .attr("fill", "none")
  .attr("stroke", "#0000ff")
  .attr("stroke-width", 1)
  .attr("shape-rendering", "crispEdges");

inner.append("path")
  .datum(recentProfile)
  .attr("d", line)
  .attr("fill", "none")
  .attr("stroke", "#00ff00")
  .attr("stroke-width", 2)
  .attr("shape-rendering", "crispEdges");

// isopycnal labels
const marks = svg.append("g");
marks.selectAll("path")
  .data(sigmaMarks)
  .join("path")
  .attr("d", d => `M${x(d[0]) - 3},${y(d[1])}h6M${x(d[0])},${y(d[1]) - 3}v6`)
  .attr("stroke", "#000")
  .attr("stroke-width", 0.8);
marks.selectAll("text")
  .data(sigmaMarks)
  .join("text")
  .attr("x", d => x(d[0]) + 1)
  .attr("y", d => y(d[1]) - 3)
  .attr("font-size", 15)
  .attr("font-weight", "bold")
  .text((d, i) => sigmaLabels[i]);

// axes, ticks pointing inwards on all four sides
const fontFam = '"Liberation Sans", Arial, Helvetica, sans-serif';
function styleAxis(g) {
  g.select(".domain").remove();
  g.attr("font-family", fontFam).attr("font-size", 13);
  g.selectAll("line").attr("stroke", "#000");
  g.selectAll("text").attr("fill", "#000");
}

svg.append("g")
  .attr("transform", `translate(0,${box.bottom})`)
  .call(d3.axisBottom(x).tickValues(xTicks).tickSize(-5).tickPadding(5)
    .tickFormat((d, i) => xTickLabels[i]))
  .call(styleAxis);

svg.append("g")
  .attr("transform", `translate(0,${box.top})`)
  .call(d3.axisTop(x).tickValues(xTicks).tickSize(-5).tickFormat(""))
  .call(styleAxis);

svg.append("g")
  .attr("transform", `translate(${box.left},0)`)
  .call(d3.axisLeft(y).tickValues(yTicks).tickSize(-5).tickPadding(4)
    .tickFormat((d, i) => yTickLabels[i]))
  .call(styleAxis);

svg.append("g")
  .attr("transform", `translate(${box.right},0)`)
  .call(d3.axisRight(y).tickValues(yTicks).tickSize(-5).tickFormat(""))
  .call(styleAxis);

svg.append("rect")
  .attr("x", box.left).attr("y", box.top)
  .attr("width", box.right - box.left).attr("height", box.bottom - box.top)
  .attr("fill", "none")
  .attr("stroke", "#000")
  .attr("stroke-width", 1);

// legend
const legend = svg.append("g");
legend.append("rect")
  .attr("x", 321).attr("y", 73).attr("width", 285).attr("height", 26)
  .attr("fill", "#fff").attr("stroke", "#000");
legend.append("line")
  .attr("x1", 332).attr("x2", 376).attr("y1", 86).attr("y2", 86)
  .attr("stroke", "#00ff00").attr("stroke-width", 2);
legend.append("text")
  .attr("x", 405).attr("y", 91)
  .attr("font-size", 12.5).attr("letter-spacing", 0.7)
  .text(legendLabel);

// titles
svg.append("text")
  .attr("x", (box.left + box.right) / 2).attr("y", 52)
  .attr("text-anchor", "middle")
  .attr("font-size", 18).attr("font-weight", "bold")
  .text(titleText);

svg.append("text")
  .attr("x", 343).attr("y", 514)
  .attr("text-anchor", "middle")
  .attr("font-size", 15.5).attr("font-weight", "bold")
  .text(xLabel);

svg.append("text")
  .attr("transform", "translate(35,270) rotate(-90)")
  .attr("text-anchor", "middle")
  .attr("font-size", 15.5).attr("font-weight", "bold")
  .text(yLabel);

// footer
const foot = svg.append("g").attr("font-size", 13);
foot.append("text").attr("x", 62).attr("y", 548)
  .attr("font-weight", "bold").attr("letter-spacing", 0.8)
  .text("Float/Profileur dérivant:");
foot.append("text").attr("x", 237).attr("y", 548).attr("letter-spacing", 0.6).text(floatId);
foot.append("text").attr("x", 62).attr("y", 566)
  .attr("font-weight", "bold").attr("letter-spacing", 0.8)
  .text("Period/Période:");
foot.append("text").attr("x", 184).attr("y", 566).attr("letter-spacing", 0.9).text(periodStart);
foot.append("text").attr("x", 268).attr("y", 566).text("to/à");
foot.append("text").attr("x", 296).attr("y", 566).attr("letter-spacing", 0.6).text(periodEnd);
svg.append("text").attr("x", 430).attr("y", 566)
  .attr("font-size", 10.5)
  .style("white-space", "pre")
  .text(stamp);
</script>
</body>
</html>
